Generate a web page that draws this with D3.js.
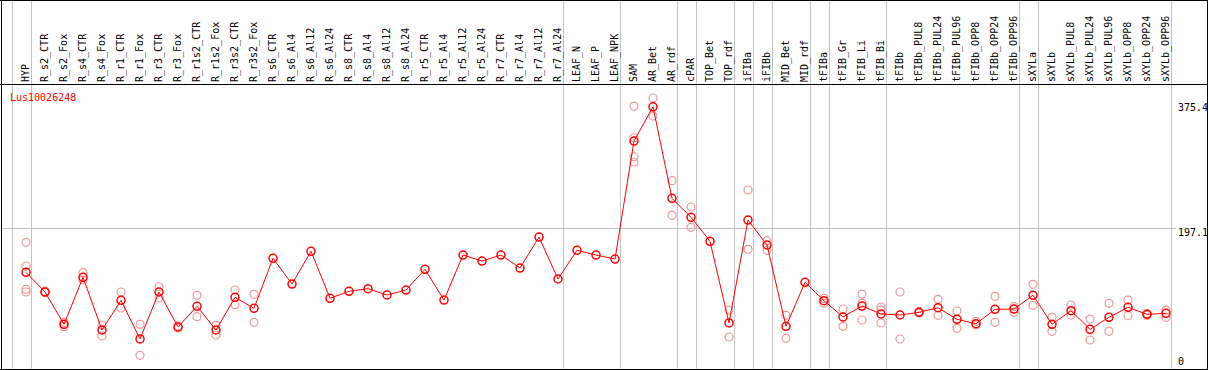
<!DOCTYPE html>
<html>
<head>
<meta charset="utf-8">
<script src="https://cdn.jsdelivr.net/npm/d3@7"></script>
<style>
body { margin: 0; background: #fff; }
text { font-family: "DejaVu Sans Mono", monospace; font-size: 10px; }
</style>
</head>
<body>
<div id="chart"></div>
<script>
var geneName = "Lus10026248";

var categories = ["HYP", "R_s2_CTR", "R_s2_Fox", "R_s4_CTR", "R_s4_Fox", "R_r1_CTR", "R_r1_Fox",
  "R_r3_CTR", "R_r3_Fox", "R_r1s2_CTR", "R_r1s2_Fox", "R_r3s2_CTR", "R_r3s2_Fox",
  "R_s6_CTR", "R_s6_Al4", "R_s6_Al12", "R_s6_Al24", "R_s8_CTR", "R_s8_Al4", "R_s8_Al12", "R_s8_Al24",
  "R_r5_CTR", "R_r5_Al4", "R_r5_Al12", "R_r5_Al24", "R_r7_CTR", "R_r7_Al4", "R_r7_Al12", "R_r7_Al24",
  "LEAF_N", "LEAF_P", "LEAF_NPK", "SAM", "AR_Bet", "AR_rdf", "cPAR", "TOP_Bet", "TOP_rdf",
  "iFIBa", "iFIBb", "MID_Bet", "MID_rdf", "tFIBa", "tFIB_Gr", "tFIB_Li", "tFIB_Bi", "tFIBb",
  "tFIBb_PUL8", "tFIBb_PUL24", "tFIBb_PUL96", "tFIBb_OPP8", "tFIBb_OPP24", "tFIBb_OPP96",
  "sXYLa", "sXYLb", "sXYLb_PUL8", "sXYLb_PUL24", "sXYLb_PUL96", "sXYLb_OPP8", "sXYLb_OPP24", "sXYLb_OPP96"];

// mean expression per sample
var means = [136.8, 109.9, 65.7, 130.0, 57.9, 98.5, 45.6, 109.9, 62.0, 90.3, 57.9, 102.6, 87.6,
  156.0, 120.8, 165.6, 101.3, 110.8, 114.4, 105.8, 112.6, 140.9, 98.9, 160.5, 152.3, 160.5, 142.7, 185.1, 127.7,
  166.9, 160.5, 155.0, 316.5, 363.4, 238.1, 212.1, 179.3, 67.5, 208.4, 174.2, 62.9, 123.2,
  98.0, 75.7, 90.7, 79.8, 78.4, 82.1, 88.4, 72.5, 66.5, 86.2, 86.6,
  105.4, 65.7, 84.3, 58.8, 75.3, 88.9, 79.4, 80.7];

// replicate values per sample
var reps = [[177.9, 145.5, 113.6, 109.9], [109, 111], [68.4, 62.4], [136.3, 126.3], [64.7, 49.7],
  [109.9, 88.0], [65.7, 23.3], [117.1, 101.7], [63.4, 60.6], [105.4, 76.1], [64.3, 51.0],
  [112.6, 92.5], [106.7, 68.4],
  [], [], [], [], [], [], [], [], [], [], [], [], [], [], [], [], [], [], [],
  [364.4, 321.0, 295.0, 287.8], [375.4, 350.7], [262.2, 214.8], [226.2, 198.4], [],
  [85.2, 48.3], [249.5, 168.3], [180.1, 166.9], [78.0, 46.5], [],
  [101.3, 94.8], [86.6, 62.9], [107.1, 94.4, 71.6], [89.4, 85.2, 67.5], [109.9, 45.6],
  [81, 83], [99.9, 78.0], [83.9, 60.2], [69.8, 64.7], [104.0, 68.4], [89.8, 82.1],
  [120.4, 91.7], [75.3, 56.1], [92.1, 78.4], [72.9, 44.2], [94.4, 56.1], [98.9, 77.4], [78, 80.5], [85.2, 75.3]];

var yTicks = [0, 197.1, 375.4];
var yMax = 375.4;

// a separator is drawn right after these samples
var groupEnds = ["HYP", "R_r7_Al24", "LEAF_NPK", "AR_rdf", "cPAR", "TOP_rdf", "iFIBa", "iFIBb",
  "MID_rdf", "tFIBa", "tFIB_Bi", "tFIBb_OPP96", "sXYLa", "sXYLb_OPP96"];

var svgWidth = 1209;
var svgHeight = 370;
var headerBottom = 84.5;

var svg = d3.select("#chart").append("svg")
  .attr("width", svgWidth)
  .attr("height", svgHeight);

var x = d3.scalePoint()
  .domain(categories)
  .range([26, 1166]);

var y = d3.scaleLinear()
  .domain([0, yMax])
  .range([372.3, 98]);

var gridColor = "#c3c3c3";

// vertical separators (leading one + group ends)
var sepX = [x(categories[0]) - x.step() + 4.5].concat(groupEnds.map(function(c) { return x(c) + 4.5; }));
svg.selectAll(".vsep").data(sepX).enter().append("line")
  .attr("x1", d => Math.round(d) + 0.5)
  .attr("x2", d => Math.round(d) + 0.5)
  .attr("y1", 0)
  .attr("y2", 369)
  .attr("stroke", gridColor)
  .attr("stroke-width", 1);

// horizontal grid line at middle tick
svg.append("line")
  .attr("x1", 1)
  .attr("x2", 1176)
  .attr("y1", Math.round(y(yTicks[1])) + 0.5)
  .attr("y2", Math.round(y(yTicks[1])) + 0.5)
  .attr("stroke", gridColor);

// frame
var frame = [
  [0, 0.5, 1208, 0.5],
  [0, headerBottom, 1208, headerBottom],
  [0, 369.5, 1208, 369.5],
  [1.5, 0, 1.5, 370],
  [1207.5, 0, 1207.5, 370]
];
svg.selectAll(".frame").data(frame).enter().append("line")
  .attr("x1", d => d[0]).attr("y1", d => d[1])
  .attr("x2", d => d[2]).attr("y2", d => d[3])
  .attr("stroke", "#000").attr("stroke-width", 1);

// header labels
svg.selectAll(".lab").data(categories).enter().append("text")
  .attr("transform", d => `translate(${x(d) + 2.5}, 82) rotate(-90)`)
  .attr("fill", "#000")
  .text(d => d);

// gene name
svg.append("text")
  .attr("x", 10)
  .attr("y", 100.5)
  .attr("fill", "#ff0000")
  .text(geneName);

// right axis labels
svg.selectAll(".ytick").data(yTicks).enter().append("text")
  .attr("x", 1178)
  .attr("y", d => Math.max(110.7, Math.min(365, y(d) + 7.5)))
  .attr("fill", "#000")
  .text(d => d);

// replicate points
var repPts = [];
reps.forEach(function(r, i) {
  r.forEach(function(v) { repPts.push({ c: categories[i], v: v }); });
});
svg.selectAll(".rep").data(repPts).enter().append("circle")
  .attr("cx", d => x(d.c))
  .attr("cy", d => y(d.v))
  .attr("r", 4)
  .attr("fill", "none")
  .attr("stroke", "#f09696")
  .attr("stroke-width", 1.2);

// mean line
var line = d3.line()
  .x((d, i) => x(categories[i]))
  .y(d => y(d));

svg.append("path")
  .datum(means)
  .attr("d", line)
  .attr("fill", "none")
  .attr("stroke", "#ff0000")
  .attr("stroke-width", 1);

svg.selectAll(".mean").data(means).enter().append("circle")
  .attr("cx", (d, i) => x(categories[i]))
  .attr("cy", d => y(d))
  .attr("r", 4)
  .attr("fill", "none")
  .attr("stroke", "#ff0000")
  .attr("stroke-width", 1.5);
</script>
</body>
</html>
